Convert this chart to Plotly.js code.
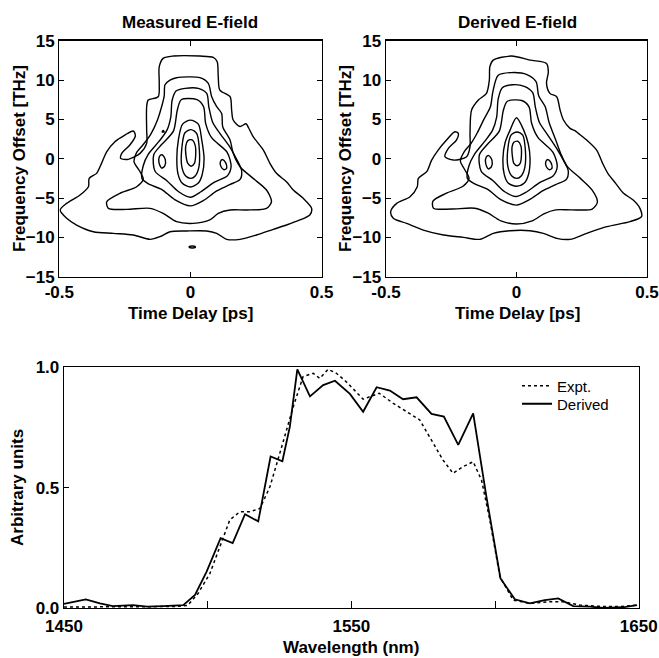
<!DOCTYPE html>
<html><head><meta charset="utf-8">
<script src="https://cdn.plot.ly/plotly-3.0.1.min.js"></script>
<style>html,body{margin:0;padding:0;background:#fff}#c{width:659px;height:658px}</style>
</head><body><div id="c"></div>
<script>
// ---- bottom spectrum ----
const derivedWl = [1450,1457.6,1462.5,1467,1474,1479,1484.5,1491.5,1495.6,1499.6,1504.5,1508.7,1513,1517.6,1521.9,1526,1528.6,1531.2,1535.6,1540.2,1544.3,1549.5,1554.1,1558.8,1563.4,1568,1572.7,1577.9,1582.2,1587.2,1592.4,1597,1601.9,1606.9,1612.1,1617.3,1622,1627.2,1633,1637.6,1644.6,1649.4];
const derivedVal = [0.017,0.036,0.019,0.008,0.012,0.006,0.008,0.012,0.054,0.15,0.29,0.27,0.39,0.36,0.63,0.61,0.754,0.992,0.88,0.927,0.945,0.89,0.816,0.918,0.904,0.868,0.876,0.807,0.796,0.678,0.809,0.463,0.123,0.036,0.019,0.033,0.04,0.008,0.006,0.0,0.003,0.012];
const exptWl = [1450,1460,1470,1480,1488,1493,1496.7,1500.8,1504.3,1507.7,1511.2,1514.7,1518.2,1521.7,1525.1,1527.4,1529.8,1533.2,1536.7,1539,1541.9,1544.8,1548.3,1554.1,1559.7,1564.6,1569.2,1573.8,1578.5,1581.9,1585.4,1588.9,1592.4,1595.3,1598.2,1601.7,1606.3,1612.1,1619,1623.7,1629.5,1637.6,1644,1649.4];
const exptVal = [0.004,0.005,0.004,0.004,0.006,0.01,0.061,0.144,0.255,0.366,0.40,0.40,0.414,0.505,0.643,0.74,0.837,0.962,0.976,0.955,0.992,0.976,0.94,0.868,0.893,0.851,0.816,0.782,0.685,0.615,0.56,0.588,0.608,0.532,0.366,0.13,0.033,0.019,0.026,0.026,0.012,0.006,0.006,0.012];

// ---- contour lines: time delay (ps) / frequency offset (THz) ----
// Measured E-field
const measL1_t = [-0.104,-0.065,0.036,0.087,0.102,0.106,0.112,0.151,0.157,0.163,0.189,0.212,0.222,0.239,0.278,0.303,0.328,0.366,0.392,0.430,0.462,0.455,0.417,0.366,0.316,0.252,0.189,0.138,0.100,0.062,-0.015,-0.078,-0.116,-0.154,-0.218,-0.294,-0.370,-0.434,-0.472,-0.497,-0.472,-0.421,-0.389,-0.386,-0.358,-0.339,-0.319,-0.288,-0.250,-0.218,-0.210,-0.231,-0.262,-0.266,-0.237,-0.192,-0.167,-0.167,-0.167,-0.161,-0.123,-0.119,-0.119];
const measL1_f = [12.76,13.05,13.05,12.88,12.33,10.42,8.73,7.88,6.19,4.92,4.10,4.45,3.90,2.80,1.10,-0.59,-1.86,-2.92,-3.98,-5.04,-6.31,-7.16,-7.79,-8.43,-8.98,-9.70,-10.25,-10.25,-9.49,-9.19,-9.19,-9.28,-9.91,-10.25,-9.70,-9.49,-9.28,-8.43,-7.58,-6.52,-5.68,-4.62,-3.56,-2.50,-1.86,-0.59,0.89,2.16,3.01,3.52,2.90,1.74,0.68,0.04,-0.08,0.68,1.95,3.65,6.61,7.46,7.88,9.58,11.70];
const measL2_t = [-0.078,-0.053,0.036,0.068,0.081,0.100,0.119,0.123,0.151,0.163,0.189,0.239,0.290,0.309,0.290,0.214,0.151,0.106,0.074,0.011,-0.053,-0.104,-0.154,-0.243,-0.313,-0.319,-0.269,-0.205,-0.180,-0.195,-0.215,-0.205,-0.180,-0.150,-0.125,-0.110,-0.100,-0.097];
const measL2_f = [10.00,10.30,10.30,9.58,7.88,6.61,5.76,4.07,2.37,0.68,-1.02,-2.50,-3.98,-5.46,-6.31,-6.52,-6.52,-6.95,-7.79,-8.22,-8.01,-6.95,-6.31,-6.44,-6.31,-5.46,-4.40,-3.56,-2.60,-1.50,-0.40,0.80,1.80,3.20,5.00,6.60,8.00,9.40];
const measL3_t = [-0.055,-0.020,0.030,0.062,0.070,0.085,0.115,0.150,0.175,0.195,0.190,0.150,0.100,0.050,0.000,-0.060,-0.110,-0.160,-0.185,-0.180,-0.160,-0.120,-0.090,-0.075,-0.070];
const measL3_f = [8.60,8.95,8.95,8.30,6.60,4.60,3.10,1.50,0.00,-1.50,-2.60,-3.30,-4.10,-5.30,-6.00,-5.20,-3.90,-3.20,-2.50,-0.90,0.60,2.20,3.60,5.30,7.40];
const measL4_t = [-0.035,0.025,0.050,0.058,0.080,0.140,0.155,0.140,0.090,0.040,0.000,-0.045,-0.090,-0.135,-0.140,-0.110,-0.065,-0.050];
const measL4_f = [7.50,7.50,6.60,4.50,2.70,0.80,-1.00,-2.20,-3.00,-4.20,-4.90,-4.20,-2.80,-1.60,0.50,1.80,3.50,6.20];
const measL5_t = [-0.030,0.000,0.030,0.043,0.052,0.045,0.030,0.000,-0.032,-0.047,-0.052,-0.046];
const measL5_f = [4.40,4.90,4.40,2.40,0.00,-2.00,-3.10,-3.60,-3.10,-2.00,0.00,2.40];
const measL6_t = [-0.021,0.002,0.024,0.034,0.032,0.018,0.002,-0.018,-0.033,-0.033];
const measL6_f = [3.30,3.70,3.20,1.10,-1.10,-2.20,-2.50,-2.20,-1.00,1.30];
const measL7_t = [-0.010,0.006,0.018,0.020,0.015,0.003,-0.010,-0.017,-0.018];
const measL7_f = [2.30,2.40,1.70,0.50,-0.60,-0.95,-0.60,0.40,1.60];
const measIslL_t = [-0.108,-0.096,-0.098,-0.110,-0.120,-0.118];
const measIslL_f = [0.50,-0.10,-0.90,-1.20,-0.50,0.30];
const measIslR_t = [0.122,0.134,0.138,0.128,0.116,0.114];
const measIslR_f = [-0.10,-0.50,-1.20,-1.40,-1.00,-0.40];
const measDotA_t = [-0.108,-0.100,-0.104];
const measDotA_f = [3.40,3.40,3.60];
const measDotB_t = [-0.004,0.018,0.018,-0.004];
const measDotB_f = [-11.15,-11.15,-11.3,-11.3];

// Derived E-field
const derL1_t = [-0.089,-0.019,0.052,0.115,0.122,0.115,0.128,0.154,0.167,0.180,0.205,0.224,0.237,0.269,0.307,0.330,0.350,0.380,0.410,0.447,0.473,0.479,0.435,0.346,0.269,0.205,0.154,0.103,0.052,-0.025,-0.089,-0.140,-0.204,-0.280,-0.357,-0.421,-0.472,-0.482,-0.459,-0.408,-0.380,-0.376,-0.344,-0.325,-0.300,-0.268,-0.236,-0.223,-0.230,-0.261,-0.274,-0.242,-0.191,-0.178,-0.178,-0.172,-0.146,-0.115,-0.104,-0.102];
const derL1_f = [12.54,13.05,12.54,12.12,11.06,9.58,8.31,7.88,6.19,4.92,3.86,3.56,3.22,2.37,1.10,-0.59,-1.86,-3.13,-4.40,-5.25,-6.31,-7.37,-8.00,-8.64,-9.49,-10.25,-10.12,-9.49,-9.15,-9.15,-9.49,-10.25,-10.00,-9.70,-9.07,-8.22,-7.58,-6.73,-5.68,-4.83,-3.56,-2.50,-1.65,-0.17,1.10,2.37,3.43,3.22,2.37,1.32,0.26,-0.17,0.26,1.53,3.22,6.19,7.46,8.31,10.00,11.70];
const derL2_t = [-0.070,-0.020,0.040,0.075,0.085,0.110,0.125,0.150,0.170,0.195,0.245,0.290,0.310,0.290,0.210,0.150,0.105,0.060,0.000,-0.060,-0.110,-0.160,-0.250,-0.318,-0.320,-0.270,-0.205,-0.182,-0.198,-0.215,-0.200,-0.175,-0.150,-0.125,-0.100,-0.090];
const derL2_f = [10.60,10.95,10.70,9.80,8.00,6.60,4.60,2.40,0.60,-1.00,-2.50,-4.00,-5.50,-6.40,-6.50,-6.50,-7.00,-7.90,-8.30,-7.90,-6.90,-6.30,-6.40,-6.30,-5.40,-4.40,-3.50,-2.50,-1.40,-0.30,0.90,1.90,3.30,5.00,6.60,8.60];
const derL3_t = [-0.055,-0.015,0.030,0.062,0.072,0.088,0.118,0.152,0.178,0.198,0.192,0.150,0.100,0.050,0.000,-0.060,-0.110,-0.160,-0.188,-0.182,-0.160,-0.122,-0.092,-0.076,-0.070];
const derL3_f = [9.00,9.40,9.20,8.40,6.60,4.60,3.10,1.40,-0.10,-1.50,-2.60,-3.30,-4.10,-5.20,-5.90,-5.20,-3.90,-3.20,-2.50,-0.90,0.60,2.20,3.60,5.30,7.60];
const derL4_t = [-0.035,0.020,0.048,0.058,0.082,0.140,0.156,0.140,0.090,0.040,0.000,-0.045,-0.090,-0.135,-0.142,-0.112,-0.066,-0.050];
const derL4_f = [7.30,7.40,6.60,4.50,2.70,0.80,-1.00,-2.20,-3.00,-4.20,-4.80,-4.20,-2.80,-1.60,0.50,1.80,3.50,6.20];
const derL5_t = [-0.025,0.000,0.028,0.045,0.052,0.046,0.030,0.000,-0.032,-0.047,-0.052,-0.044];
const derL5_f = [3.60,5.20,3.60,1.90,0.00,-2.00,-3.10,-3.50,-3.10,-2.00,0.00,2.00];
const derL6_t = [-0.021,0.002,0.024,0.034,0.032,0.018,0.002,-0.018,-0.033,-0.033];
const derL6_f = [3.00,3.40,3.00,1.10,-1.10,-2.20,-2.50,-2.20,-1.00,1.30];
const derL7_t = [-0.010,0.006,0.017,0.019,0.014,0.003,-0.010,-0.016,-0.017];
const derL7_f = [2.10,2.20,1.60,0.50,-0.60,-0.90,-0.60,0.40,1.50];
const derIslL_t = [-0.106,-0.094,-0.096,-0.108,-0.118,-0.116];
const derIslL_f = [0.40,-0.20,-1.00,-1.30,-0.60,0.20];
const derIslR_t = [0.120,0.132,0.136,0.126,0.114,0.112];
const derIslR_f = [-0.10,-0.50,-1.20,-1.40,-1.00,-0.40];

const measLines = [[measL1_t,measL1_f],[measL2_t,measL2_f],[measL3_t,measL3_f],[measL4_t,measL4_f],[measL5_t,measL5_f],[measL6_t,measL6_f],[measL7_t,measL7_f],[measIslL_t,measIslL_f],[measIslR_t,measIslR_f],[measDotA_t,measDotA_f],[measDotB_t,measDotB_f]];
const derLines = [[derL1_t,derL1_f],[derL2_t,derL2_f],[derL3_t,derL3_f],[derL4_t,derL4_f],[derL5_t,derL5_f],[derL6_t,derL6_f],[derL7_t,derL7_f],[derIslL_t,derIslL_f],[derIslR_t,derIslR_f]];

const F = 'Liberation Sans, Arial, Helvetica, sans-serif';
const traces = [];
function addLines(lines, xa, ya){
  lines.forEach(([t,f])=>{
    traces.push({x:t.concat([t[0]]), y:f.concat([f[0]]), type:'scatter', mode:'lines', xaxis:xa, yaxis:ya,
      line:{color:'#000', width:1.4, shape:'spline', smoothing:0.8}, showlegend:false, hoverinfo:'skip'});
  });
}
addLines(measLines,'x','y');
addLines(derLines,'x2','y2');
traces.push({x:exptWl, y:exptVal, type:'scatter', mode:'lines', name:'Expt.', xaxis:'x3', yaxis:'y3', legend:'legend',
  line:{color:'#000', width:1.5, dash:'dot'}});
traces.push({x:derivedWl, y:derivedVal, type:'scatter', mode:'lines', name:'Derived', xaxis:'x3', yaxis:'y3', legend:'legend2',
  line:{color:'#000', width:1.8}});

const FS = 17;
const tickFont = {family:F, size:FS, color:'#000', weight:'bold'};
function ax(extra){
  return Object.assign({showgrid:false, zeroline:false, showline:true, linecolor:'#000', linewidth:1.3,
    mirror:'ticks', ticks:'inside', ticklen:5, tickcolor:'#000', tickfont:tickFont, fixedrange:true}, extra);
}
const timeTicks = [-0.5,0,0.5];
const timeLabels = ['-0.5','0','0.5'];
const freqTicks = [-15,-10,-5,0,5,10,15];
const wlTicks = [1450,1500,1550,1600,1650];
const wlLabels = ['1450','','1550','','1650'];
const ampTicks = [0,0.5,1];
const legFont = {family:F, size:15, color:'#000'};

const layout = {
  width:659, height:658, margin:{l:0,r:0,t:0,b:0}, paper_bgcolor:'#fff', plot_bgcolor:'#fff',
  font:{family:F, color:'#000'},
  showlegend:true,
  legend:{x:517/659, y:1-386/658, xanchor:'left', yanchor:'middle', bgcolor:'rgba(0,0,0,0)', borderwidth:0, font:legFont, itemwidth:30},
  legend2:{x:517/659, y:1-404/658, xanchor:'left', yanchor:'middle', bgcolor:'rgba(0,0,0,0)', borderwidth:0, font:legFont, itemwidth:30},
  xaxis: ax({domain:[0.090,0.488], range:[-0.5,0.5], tickvals:timeTicks, ticktext:timeLabels, anchor:'y'}),
  yaxis: ax({domain:[0.5795,0.9381], range:[-15,15], tickvals:freqTicks, anchor:'x'}),
  xaxis2: ax({domain:[0.5857,0.9818], range:[-0.5,0.5], tickvals:timeTicks, ticktext:timeLabels, anchor:'y2'}),
  yaxis2: ax({domain:[0.5795,0.9381], range:[-15,15], tickvals:freqTicks, anchor:'x2'}),
  xaxis3: ax({domain:[0.0971,0.9692], range:[1450,1650], tickvals:wlTicks, ticktext:wlLabels, anchor:'y3', mirror:true, ticklen:7, ticklabelstandoff:2}),
  yaxis3: ax({domain:[0.0760,0.4415], range:[0,1], tickvals:ampTicks, tickformat:'.1f', anchor:'x3', mirror:true}),
  annotations:[
    {text:'Measured E-field', x:190, y:23},
    {text:'Derived E-field', x:517, y:23},
    {text:'Time Delay [ps]', x:190, y:313},
    {text:'Time Delay [ps]', x:517, y:313},
    {text:'Frequency Offset [THz]', x:19, y:159, angle:-90},
    {text:'Frequency Offset [THz]', x:345, y:159, angle:-90},
    {text:'Arbitrary units', x:17, y:488, angle:-90},
    {text:'Wavelength (nm)', x:351, y:647}
  ].map(a=>({text:a.text, x:a.x/659, y:1-a.y/658, xref:'paper', yref:'paper', xanchor:'center', yanchor:'middle',
     showarrow:false, textangle:a.angle||0, font:{family:F, size:FS, color:'#000', weight:'bold'}}))
};
Plotly.newPlot('c', traces, layout, {displayModeBar:false, staticPlot:true});
</script></body></html>
